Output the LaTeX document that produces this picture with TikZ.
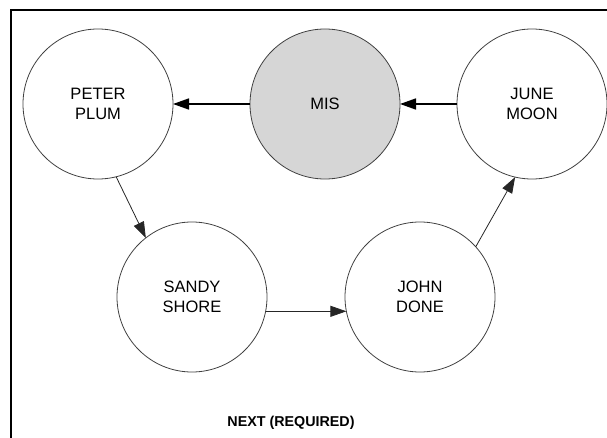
\documentclass[tikz,border=0pt]{standalone}
\usepackage{fontspec}
\setmainfont{Liberation Sans}
\usetikzlibrary{arrows.meta}
\begin{document}
\begin{tikzpicture}[x=1pt,y=-1pt,
  person/.style={circle,draw=black!75,line width=0.8pt,minimum size=150pt,
    inner sep=0pt,outer sep=0pt,align=center,
    font=\fontsize{16.5}{19.5}\selectfont},
  flow/.style={-{Triangle[length=16pt,width=11pt]},line width=0.8pt,black!85},
  mainflow/.style={flow,line width=1.6pt,black},
  frame/.style={line width=1.6pt,black}]
  \useasboundingbox (0,0) rectangle (607,438);
  % open frame: top and left edges only
  \coordinate (ftr) at (607,10);
  \coordinate (ftl) at (11,10);
  \coordinate (fbl) at (11,438);
  \draw[frame] (ftr) -- (ftl) -- (fbl);

  \node[person] (peter) at (98,104) {PETER\\PLUM};
  \node[person,fill=black!16] (mis) at (325,104) {MIS};
  \node[person] (june) at (532,104) {JUNE\\MOON};
  \node[person] (sandy) at (192,297) {SANDY\\SHORE};
  \node[person] (john) at (420,297) {JOHN\\DONE};

  \draw[mainflow] (mis) -- (peter);
  \draw[mainflow] (june) -- (mis);
  \draw[flow] (peter.284) -- (sandy.128);
  \draw[flow] (sandy.-11) -- (john.191);
  \draw[flow] (john.42) -- (june.257);

  \node[font=\fontsize{14.3}{17}\selectfont\bfseries] (caption) at (291,423) {NEXT (REQUIRED)};
\end{tikzpicture}
\end{document}
